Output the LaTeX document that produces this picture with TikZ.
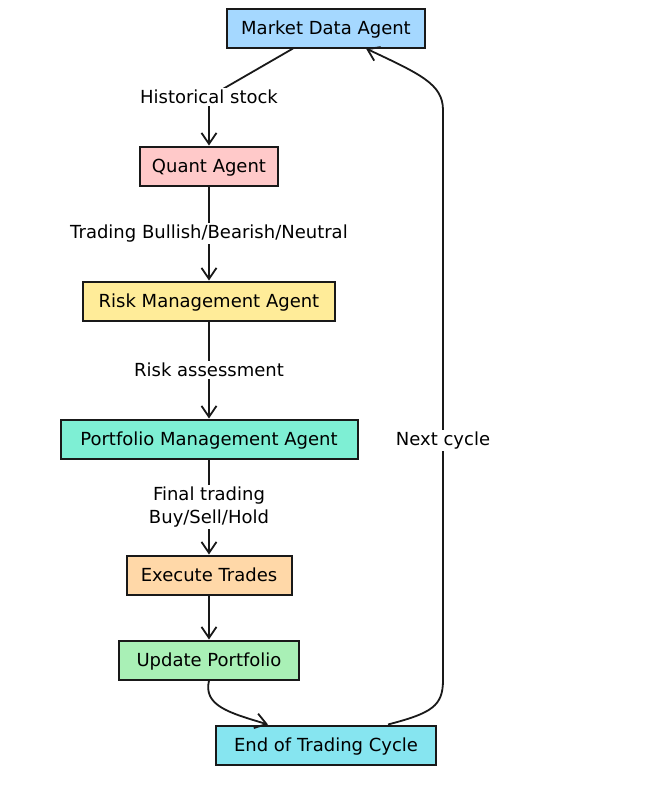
\documentclass[tikz,border=0pt]{standalone}
\usepackage{fontspec}
\setmainfont{DejaVu Sans}
\usepackage{tikz}
\usetikzlibrary{arrows.meta}
\definecolor{mktblue}{HTML}{A5D8FF}
\definecolor{quantpink}{HTML}{FFC9C9}
\definecolor{riskyellow}{HTML}{FFEC99}
\definecolor{portteal}{HTML}{7EEFD4}
\definecolor{execorange}{HTML}{FFD8A8}
\definecolor{updgreen}{HTML}{A9F0B6}
\definecolor{endcyan}{HTML}{86E5F0}
\tikzstyle{agent}=[draw=black!90,line width=2pt,minimum height=39pt,inner sep=0pt,text height=12pt,text depth=0pt,font=\fontsize{18}{21}\selectfont]
\tikzstyle{flow} = [draw=black!90,line width=1.8pt,-{Straight Barb[length=11pt,width=15pt,line width=1.8pt]}]
\tikzstyle{tag}=[fill=white,inner sep=2pt,align=center,font=\fontsize{18}{23}\selectfont]

\begin{document}
\begin{tikzpicture}[x=1pt,y=-1pt]
    \useasboundingbox (0,0) rectangle (667,796);
    % First we draw the agents and steps
    \foreach \pos/\name/\bw/\col/\txt in {{(326,28)/mkt/198/mktblue/Market Data Agent},
        {(209,166)/quant/138/quantpink/Quant Agent},
        {(209,301)/risk/252/riskyellow/Risk Management Agent},
        {(209,439)/port/297/portteal/Portfolio Management Agent},
        {(209,575)/exec/165/execorange/Execute Trades},
        {(209,660)/upd/180/updgreen/Update Portfolio},
        {(326,745)/endc/220/endcyan/End of Trading Cycle}}
        \node[agent,fill=\col,minimum width=\bw pt] (\name) at \pos {\txt};
    % Then the flow from one step to the next
    \draw[flow] ([xshift=-33pt]mkt.south) -- (209,97) node[tag] {Historical stock} -- (quant);
    \draw[flow] (quant) -- node[tag] {Trading Bullish/Bearish/Neutral} (risk);
    \draw[flow] (risk) -- node[tag] {Risk assessment} (port);
    \draw[flow] (port) -- node[tag] {Final trading\\Buy/Sell/Hold} (exec);
    \draw[flow] (exec) -- (upd);
    \draw[flow] (upd.south) .. controls (203,706) and (230,713) .. ([xshift=-58pt]endc.north);
    % Back to the top for the next cycle
    \draw[flow] ([xshift=62pt]endc.north) .. controls (432,713) and (443,706) .. (443,680)
        -- node[tag,pos=0.42] {Next cycle} (443,110)
        .. controls (443,84) and (420,74) .. ([xshift=40pt]mkt.south);
\end{tikzpicture}
\end{document}
